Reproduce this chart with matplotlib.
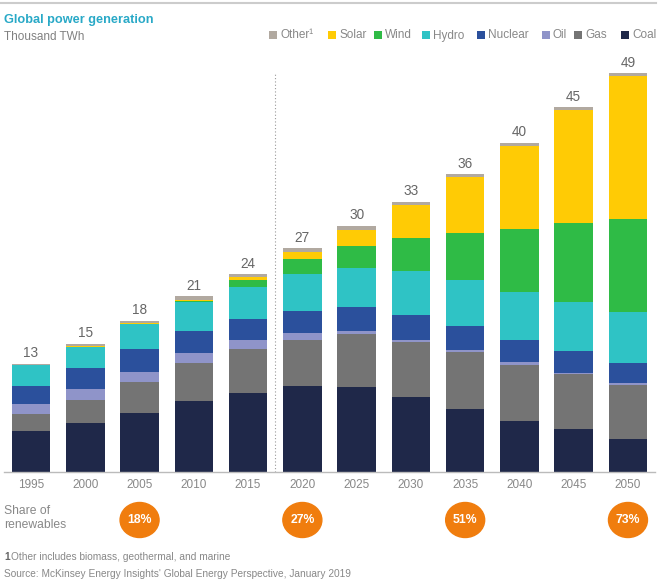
import matplotlib
matplotlib.use("Agg")
import matplotlib.pyplot as plt
import numpy as np
from matplotlib.patches import Ellipse, Rectangle
from matplotlib.transforms import blended_transform_factory

plt.rcParams['font.family'] = ['Liberation Sans', 'DejaVu Sans']

years = ['1995', '2000', '2005', '2010', '2015', '2020', '2025', '2030', '2035', '2040', '2045', '2050']
coal = [5.0, 6.05, 7.25, 8.7, 9.65, 10.5, 10.4, 9.15, 7.7, 6.25, 5.3, 4.1]
gas = [2.1, 2.8, 3.8, 4.7, 5.5, 5.7, 6.55, 6.8, 7.0, 6.9, 6.7, 6.55]
oil = [1.2, 1.3, 1.2, 1.15, 1.1, 0.9, 0.33, 0.3, 0.3, 0.3, 0.2, 0.3]
nuclear = [2.3, 2.6, 2.8, 2.7, 2.5, 2.7, 3.0, 3.07, 2.9, 2.75, 2.65, 2.45]
hydro = [2.5, 2.6, 3.1, 3.55, 4.0, 4.45, 4.75, 5.3, 5.6, 5.85, 6.0, 6.25]
wind = [0.0, 0.03, 0.05, 0.2, 0.8, 1.85, 2.7, 4.1, 5.8, 7.8, 9.65, 11.4]
solar = [0.0, 0.05, 0.05, 0.05, 0.33, 0.95, 1.96, 4.1, 6.9, 10.2, 13.9, 17.55]
other = [0.2, 0.3, 0.3, 0.5, 0.4, 0.4, 0.5, 0.33, 0.33, 0.33, 0.33, 0.33]
totals = [13, 15, 18, 21, 24, 27, 30, 33, 36, 40, 45, 49]

share_years = ['2005', '2020', '2035', '2050']
share_vals = ['18%', '27%', '51%', '73%']

series = [
    ('Coal', coal, '#1f2849'),
    ('Gas', gas, '#747474'),
    ('Oil', oil, '#8f94c9'),
    ('Nuclear', nuclear, '#2b509c'),
    ('Hydro', hydro, '#2fc3c5'),
    ('Wind', wind, '#2fbb46'),
    ('Solar', solar, '#ffcb05'),
    ('Other', other, '#b1a9a0'),
]

W, H = 660, 583
fig = plt.figure(figsize=(6.6, 5.83), dpi=100)

def fx(px):
    return px / W

def fy(py):
    return 1 - py / H

ax = fig.add_axes([fx(3.9), fy(472), fx(651.2), 407.5 / H])
x = np.arange(len(years))
bottom = np.zeros(len(years))
for name, vals, col in series:
    ax.bar(x, vals, width=0.71, bottom=bottom, color=col, linewidth=0)
    bottom += np.array(vals)

for i, t in enumerate(totals):
    ax.annotate(str(t), (x[i], bottom[i]), xytext=(0, 2.5), textcoords='offset points',
                ha='center', va='bottom', fontsize=9.8, color='#666666')

# dotted divider between history and outlook
ax.plot([4.5, 4.5], [0, 49.1], color='#999999', lw=0.8, ls=(0, (1, 2)))

ax.set_xlim(-0.5, 11.5)
ax.set_ylim(0, 50)
ax.set_xticks(x)
ax.set_xticklabels(years, fontsize=8.5, color='#888888')
ax.tick_params(axis='x', length=0, pad=5)
ax.set_yticks([])
for s in ['top', 'right', 'left']:
    ax.spines[s].set_visible(False)
ax.spines['bottom'].set_color('#bbbbbb')
ax.spines['bottom'].set_linewidth(1)

# top rule
fig.add_artist(plt.Line2D([0, fx(656)], [fy(3.3), fy(3.3)], color='#cccccc', lw=1.5))

fig.text(fx(4), fy(20.5), 'Global power generation', fontsize=9.2, fontweight='bold',
         color='#29a9c7', va='center', ha='left')
fig.text(fx(4), fy(36.5), 'Thousand TWh', fontsize=8.5, color='#808080', va='center', ha='left')

# legend
leg_items = [('Other', 269.3), ('Solar', 328.3), ('Wind', 374.3), ('Hydro', 422.3),
             ('Nuclear', 476.7), ('Oil', 541.7), ('Gas', 574.3), ('Coal', 621)]
colors = {n: c for n, v, c in series}
for name, px in leg_items:
    fig.add_artist(Rectangle((fx(px), fy(39)), fx(8), 8 / H, color=colors[name],
                             transform=fig.transFigure, lw=0))
    lbl = 'Other\u00b9' if name == 'Other' else name
    fig.text(fx(px + 11), fy(35.5), lbl, fontsize=8.5, color='#888888', va='center', ha='left')

# share of renewables
fig.text(fx(4), fy(518), 'Share of\nrenewables', fontsize=8.7, color='#888888',
         va='center', ha='left', linespacing=1.2)
tr = blended_transform_factory(ax.transData, fig.transFigure)
for yr, s in zip(share_years, share_vals):
    i = years.index(yr)
    e = Ellipse((x[i], fy(520)), 39 / 54.27, 35 / H, color='#f07d0e', transform=tr, clip_on=False)
    ax.add_patch(e)
    ax.text(x[i], fy(520), s, transform=tr, ha='center', va='center', fontsize=8.8,
            fontweight='bold', color='white', clip_on=False)

fig.text(fx(4), fy(557), '1', fontsize=7.3, fontweight='bold', color='#666666', va='center', ha='left')
fig.text(fx(11), fy(557), 'Other includes biomass, geothermal, and marine', fontsize=7.3,
         color='#888888', va='center', ha='left')
fig.text(fx(4), fy(574), "Source: McKinsey Energy Insights' Global Energy Perspective, January 2019",
         fontsize=7.3, color='#888888', va='center', ha='left')

fig.savefig('out.png', dpi=100)
